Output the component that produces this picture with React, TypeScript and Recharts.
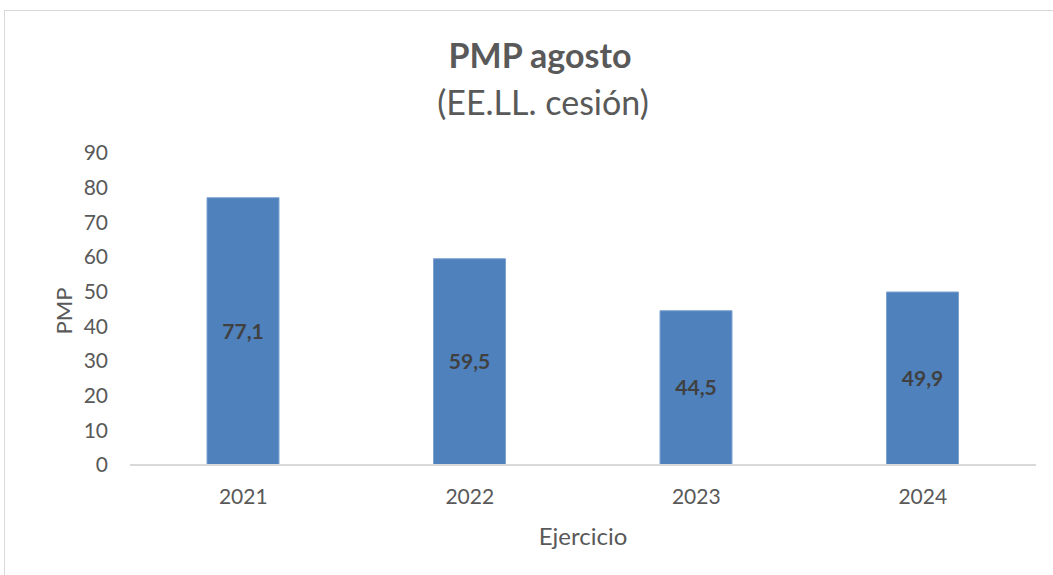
import React from 'react';
import { BarChart, Bar, XAxis, YAxis, LabelList } from 'recharts';

const years = ['2021', '2022', '2023', '2024'];
const pmpValues = [77.1, 59.5, 44.5, 49.9];
const yTicks = [0, 10, 20, 30, 40, 50, 60, 70, 80, 90];

const data = years.map((y, i) => ({ year: y, pmp: pmpValues[i] }));

const FONT = 'Lato, "Open Sans", sans-serif';
const TEXT = '#595959';

export default function App() {
  return (
    <div style={{ position: 'absolute', left: 0, top: 0, width: 1053, height: 575, overflow: 'hidden', background: '#fff', fontFamily: FONT }}>
      <div style={{ position: 'absolute', left: 4, top: 10, width: 1100, height: 700, border: '1px solid #d9d9d9', boxSizing: 'border-box' }} />
      <div style={{ position: 'absolute', left: 0, top: 35, width: 1080, textAlign: 'center', fontSize: 34, fontWeight: 700, color: TEXT, lineHeight: '40px' }}>PMP agosto</div>
      <div style={{ position: 'absolute', left: 0, top: 82, width: 1086, textAlign: 'center', fontSize: 34, color: TEXT, lineHeight: '40px' }}>(EE.LL. cesión)</div>
      <div style={{ position: 'absolute', left: 63, top: 311, width: 0, height: 0 }}>
        <div style={{ position: 'absolute', transform: 'translate(-50%, -50%) rotate(-90deg)', fontSize: 22, color: TEXT, whiteSpace: 'nowrap' }}>PMP</div>
      </div>
      <div style={{ position: 'absolute', left: 130, width: 906, top: 521, textAlign: 'center', fontSize: 24, color: TEXT, lineHeight: '30px' }}>Ejercicio</div>
      <div style={{ position: 'absolute', left: 0, top: 0 }}>
        <BarChart width={1053} height={575} data={data} margin={{ top: 153, right: 17, bottom: 50, left: 70 }} barCategoryGap="34%">
          <XAxis
            dataKey="year"
            height={60}
            axisLine={{ stroke: '#d9d9d9', strokeWidth: 2 }}
            tickLine={false}
            tickMargin={18}
            tick={{ fill: TEXT, fontSize: 21, fontFamily: FONT }}
          />
          <YAxis
            width={60}
            domain={[0, 90]}
            ticks={yTicks}
            interval={0}
            axisLine={false}
            tickLine={false}
            tickMargin={16}
            tick={{ fill: TEXT, fontSize: 21, fontFamily: FONT }}
          />
          <Bar dataKey="pmp" fill="#4f81bd" stroke="#7fa3d1" strokeWidth={1} isAnimationActive={false}>
            <LabelList
              dataKey="pmp"
              position="center"
              formatter={(v: any) => String(v).replace('.', ',')}
              style={{ fill: '#404040', fontSize: 21, fontWeight: 700, fontFamily: FONT }}
            />
          </Bar>
        </BarChart>
      </div>
    </div>
  );
}
